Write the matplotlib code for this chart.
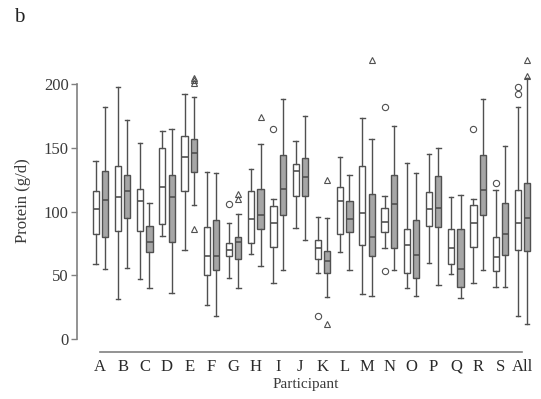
import matplotlib
matplotlib.use("Agg")
import matplotlib.pyplot as plt
import numpy as np

plt.rcParams['font.family'] = ['Liberation Serif', 'DejaVu Serif']

participants = ["A", "B", "C", "D", "E", "F", "G", "H", "I", "J", "K", "L", "M", "N", "O", "P", "Q", "R", "S", "All"]

# White boxes
white_low  = [59, 31, 47, 81, 70, 27, 48, 67, 44, 87, 52, 68, 35, 71, 40, 60, 51, 44, 41, 18]
white_q1   = [82, 85, 85, 90, 116, 50, 65, 75, 72, 112, 63, 82, 74, 84, 52, 89, 59, 72, 53, 70]
white_med  = [102, 111, 108, 119, 143, 65, 70, 94, 91, 132, 71, 108, 99, 92, 74, 102, 71, 91, 64, 91]
white_q3   = [116, 136, 118, 150, 159, 88, 75, 116, 104, 137, 78, 119, 136, 103, 86, 115, 86, 105, 80, 117]
white_high = [140, 198, 154, 163, 192, 131, 91, 133, 110, 155, 96, 143, 173, 112, 138, 145, 111, 110, 117, 182]
white_out_circle   = [[], [], [], [], [], [], [106], [], [165], [], [18], [], [], [182, 53], [], [], [], [165], [122], [198, 192]]
white_out_triangle = [[], [], [], [], [], [], [], [], [], [], [], [], [], [], [], [], [], [], [], []]

# Gray boxes
gray_low  = [55, 56, 40, 36, 105, 18, 40, 57, 54, 78, 33, 54, 34, 54, 34, 42, 32, 54, 41, 12]
gray_q1   = [80, 95, 68, 76, 131, 54, 63, 86, 97, 112, 52, 84, 65, 71, 48, 88, 41, 97, 66, 69]
gray_med  = [109, 116, 76, 111, 146, 65, 76, 97, 118, 127, 61, 94, 80, 106, 66, 103, 55, 117, 82, 95]
gray_q3   = [132, 129, 89, 129, 157, 93, 80, 118, 144, 142, 69, 108, 114, 129, 93, 128, 86, 144, 107, 122]
gray_high = [182, 172, 107, 165, 190, 130, 98, 153, 188, 175, 95, 129, 157, 167, 130, 150, 113, 188, 151, 205]
gray_out_circle   = [[], [], [], [], [], [], [], [], [], [], [], [], [], [], [], [], [], [], [], []]
gray_out_triangle = [[], [], [], [], [205, 203, 201, 86], [], [114, 110], [174], [], [], [125, 12], [], [219], [], [], [], [], [], [], [219, 206]]

yticks = [0, 50, 100, 150, 200]

fig = plt.figure(figsize=(5.41, 3.99), dpi=100)
W, H = 541, 399
ax_left, ax_right, ax_top, ax_bot = 77, 535, 50, 352
ax = fig.add_axes([ax_left / W, (H - ax_bot) / H, (ax_right - ax_left) / W, (ax_bot - ax_top) / H])

pos = np.arange(len(participants))
off = 0.21
bw = 0.28
edge = '#505050'

def make_stats(lo, q1, med, q3, hi):
    return [dict(whislo=a, q1=b, med=c, q3=d, whishi=e, fliers=[]) for a, b, c, d, e in zip(lo, q1, med, q3, hi)]

common = dict(widths=bw, patch_artist=True, showfliers=False,
              whiskerprops=dict(color=edge, lw=1.0),
              capprops=dict(color=edge, lw=1.0),
              medianprops=dict(color=edge, lw=1.2),
              manage_ticks=False)

ax.bxp(make_stats(white_low, white_q1, white_med, white_q3, white_high), positions=pos - off,
       boxprops=dict(facecolor='white', edgecolor=edge, lw=1.0), capwidths=0.2, **common)
ax.bxp(make_stats(gray_low, gray_q1, gray_med, gray_q3, gray_high), positions=pos + off,
       boxprops=dict(facecolor='#a6a6a6', edgecolor=edge, lw=1.0), capwidths=0.2, **common)

for i in range(len(participants)):
    for v in white_out_circle[i]:
        ax.plot(pos[i] - off, v, marker='o', ms=4.5, mfc='none', mec=edge, mew=0.8, ls='none')
    for v in white_out_triangle[i]:
        ax.plot(pos[i] - off, v, marker='^', ms=5, mfc='none', mec=edge, mew=0.8, ls='none')
    for v in gray_out_circle[i]:
        ax.plot(pos[i] + off, v, marker='o', ms=4.5, mfc='none', mec=edge, mew=0.8, ls='none')
    for v in gray_out_triangle[i]:
        ax.plot(pos[i] + off, v, marker='^', ms=5, mfc='none', mec=edge, mew=0.8, ls='none')

scale = 22.22
ax.set_xlim(-(100.3 - ax_left) / scale, 19 + (ax_right - 522.5) / scale)
ax.set_ylim((339 - ax_bot) / 1.275, (339 - ax_top) / 1.275)

ax.set_yticks(yticks)
ax.set_yticklabels([str(t) for t in yticks], fontsize=12, color='#3a3a3a')
ax.set_xticks(pos)
ax.set_xticklabels(participants, fontsize=12, color='#2a2a2a')
ax.tick_params(axis='x', length=0, pad=5)
ax.tick_params(axis='y', length=4, color='#808080', width=1, pad=2)

for s in ['top', 'right']:
    ax.spines[s].set_visible(False)
ax.spines['left'].set_bounds(0, 200)
ax.spines['bottom'].set_bounds(0, 19)
for s in ['left', 'bottom']:
    ax.spines[s].set_color('#808080')
    ax.spines[s].set_linewidth(1.2)

ax.set_ylabel('Protein (g/d)', fontsize=12, color='#3a3a3a', labelpad=9)
ax.set_xlabel('Participant', fontsize=11, color='#3a3a3a', labelpad=2)

fig.text(14 / W, 1 - 18 / H, 'b', fontsize=15, ha='left', va='center', color='#222222')

fig.savefig('out.png', dpi=100, facecolor='white')
